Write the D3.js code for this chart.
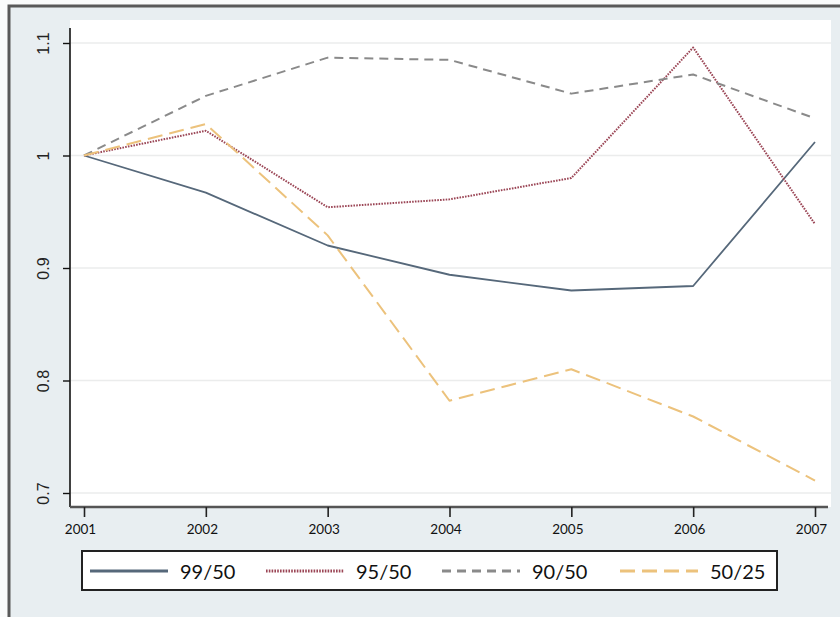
<!DOCTYPE html>
<html>
<head>
<meta charset="utf-8">
<script src="https://cdn.jsdelivr.net/npm/d3@7"></script>
<style>
html,body{margin:0;padding:0;background:#fff;}
svg{display:block;}
</style>
</head>
<body>
<svg id="chart" width="840" height="617"></svg>
<script>
const years = [2001, 2002, 2003, 2004, 2005, 2006, 2007];
const yTicks = [0.7, 0.8, 0.9, 1.0, 1.1];
const yTickLabels = ["0.7", "0.8", "0.9", "1", "1.1"];
const seriesNames = ["99/50", "95/50", "90/50", "50/25"];
const s9950 = [1.000, 0.967, 0.920, 0.894, 0.880, 0.884, 1.012];
const s9550 = [1.000, 1.022, 0.954, 0.961, 0.980, 1.096, 0.939];
const s9050 = [1.000, 1.053, 1.087, 1.085, 1.055, 1.072, 1.033];
const s5025 = [1.000, 1.028, 0.929, 0.782, 0.810, 0.768, 0.711];

const seriesValues = [s9950, s9550, s9050, s5025];
const styles = [
  {color: "#56687a", dash: null, width: 1.8, lw: 3.2},
  {color: "#9b4656", dash: "1.6,1.2", width: 2, lw: 3},
  {color: "#8a8a8a", dash: "9,6", width: 2, lw: 3},
  {color: "#ecc27c", dash: "15,7", width: 2, lw: 3.2}
];

const svg = d3.select("#chart");

// outer graph region
svg.append("rect").attr("x", 0).attr("y", 0).attr("width", 840).attr("height", 617).attr("fill", "#fafbfb");
svg.append("rect").attr("x", 9).attr("y", 6).attr("width", 840).attr("height", 640)
  .attr("fill", "#e8eef1").attr("stroke", "#595959").attr("stroke-width", 3);

// plot region
const pLeft = 70, pRight = 831, pTop = 20, pBottom = 507;
svg.append("rect").attr("x", pLeft).attr("y", pTop).attr("width", pRight - pLeft).attr("height", pBottom - pTop)
  .attr("fill", "#ffffff");

const x = d3.scaleLinear().domain([2001, 2007]).range([84, 815]);
const y = d3.scaleLinear().domain([0.7, 1.1]).range([493, 43]);

// gridlines
svg.append("g").selectAll("line").data(yTicks).join("line")
  .attr("x1", pLeft + 1).attr("x2", pRight)
  .attr("y1", d => y(d)).attr("y2", d => y(d))
  .attr("stroke", "#ebecec").attr("stroke-width", 1.5);

// y axis
const yAxis = svg.append("g").attr("transform", `translate(${pLeft},0)`)
  .call(d3.axisLeft(y).tickValues(yTicks).tickSize(7).tickFormat((d, i) => yTickLabels[i]));
yAxis.select(".domain").attr("d", `M0,${pTop + 8}V${pBottom}`).attr("stroke", "#111").attr("stroke-width", 1.6);
yAxis.selectAll(".tick line").attr("stroke", "#111").attr("stroke-width", 1.4);
yAxis.selectAll(".tick text")
  .attr("font-family", "Liberation Sans, Arial, sans-serif").attr("font-size", 16).attr("fill", "#222")
  .attr("text-anchor", "middle").attr("dy", null).attr("dominant-baseline", "central")
  .attr("x", null)
  .attr("transform", "translate(-27,0) rotate(-90)");

// x axis
const xAxis = svg.append("g").attr("transform", `translate(0,${pBottom})`)
  .call(d3.axisBottom(x).tickValues(years).tickSize(10).tickFormat(d3.format("d")));
xAxis.select(".domain").attr("d", `M${pLeft},0H828`).attr("stroke", "#555").attr("stroke-width", 2.6);
xAxis.selectAll(".tick line").attr("stroke", "#222").attr("stroke-width", 1.6);
xAxis.selectAll(".tick text")
  .attr("font-family", "Lato, sans-serif").attr("font-size", 13.5).attr("fill", "#111")
  .attr("y", 17).attr("dy", "0.71em").attr("transform", "translate(-4,0)");

// lines
const line = d3.line().x((d, i) => x(years[i])).y(d => y(d));
seriesValues.forEach((vals, k) => {
  const st = styles[k];
  svg.append("path").datum(vals)
    .attr("d", line).attr("fill", "none")
    .attr("stroke", st.color).attr("stroke-width", st.width)
    .attr("stroke-dasharray", st.dash).attr("stroke-linejoin", "round");
});

// legend
svg.append("rect").attr("x", 82).attr("y", 551).attr("width", 695).attr("height", 39)
  .attr("fill", "#fff").attr("stroke", "#222").attr("stroke-width", 2);
const legX = [90, 266, 442, 620];
const lg = svg.append("g").selectAll("g").data(seriesNames).join("g")
  .attr("transform", (d, i) => `translate(${legX[i]},571)`);
lg.append("line").attr("x1", 0).attr("x2", 78).attr("y1", 0).attr("y2", 0)
  .attr("stroke", (d, i) => styles[i].color).attr("stroke-width", (d, i) => styles[i].lw)
  .attr("stroke-dasharray", (d, i) => styles[i].dash);
lg.append("text").attr("x", 90).attr("y", 0).attr("dominant-baseline", "central")
  .attr("font-family", "Lato, sans-serif").attr("font-size", 20).attr("fill", "#111")
  .text(d => d);
</script>
</body>
</html>
